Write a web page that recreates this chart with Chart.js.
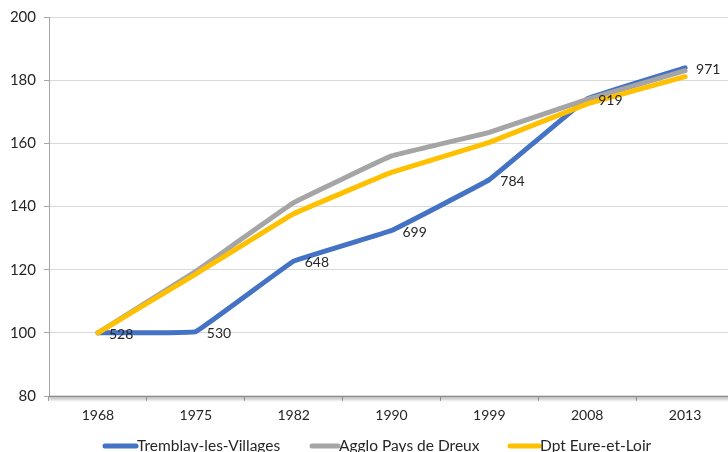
<!DOCTYPE html>
<html>
<head>
<meta charset="utf-8">
<script src="https://cdn.jsdelivr.net/npm/chart.js@4.4.1/dist/chart.umd.min.js"></script>
<style>
  html, body { margin: 0; padding: 0; background: #fff; overflow: hidden; }
  #wrap { position: absolute; left: 0; top: 0; width: 734px; height: 452px; }
</style>
</head>
<body>
<div id="wrap"><canvas id="chart" width="734" height="452"></canvas></div>
<script>
// Population index (base 100 in 1968)
const years = ['1968', '1975', '1982', '1990', '1999', '2008', '2013'];
const tremblayPop = [528, 530, 648, 699, 784, 919, 971];
const tremblayIndex = [100, 100.4, 122.7, 132.4, 148.5, 174.1, 183.9];
const agglomIndex = [100, 119.5, 141.2, 156.0, 163.5, 173.9, 183.0];
const dptIndex = [100, 118.6, 137.7, 150.8, 160.3, 172.5, 181.1];
const yTicks = [80, 100, 120, 140, 160, 180, 200];
const seriesNames = ['Tremblay-les-Villages', 'Agglo Pays de Dreux', 'Dpt Eure-et-Loir'];
const seriesColors = ['#4472C4', '#A5A5A5', '#FFC000'];

const FONT = 'Lato, "Open Sans", sans-serif';

// population counts written beside the Tremblay line
const valueLabels = {
  id: 'valueLabels',
  afterDatasetsDraw(chart) {
    const ctx = chart.ctx;
    const meta = chart.getDatasetMeta(0);
    ctx.save();
    ctx.font = '14px ' + FONT;
    ctx.fillStyle = '#262626';
    ctx.textAlign = 'left';
    ctx.textBaseline = 'middle';
    meta.data.forEach((pt, i) => {
      ctx.fillText(String(tremblayPop[i]), pt.x + 11, pt.y + 1.5);
    });
    ctx.restore();
  }
};

// shaded horizontal axis line
const axisShadow = {
  id: 'axisShadow',
  beforeDatasetsDraw(chart) {
    const { ctx, chartArea } = chart;
    ctx.save();
    ctx.strokeStyle = '#8c8c8c';
    ctx.lineWidth = 1.5;
    ctx.shadowColor = 'rgba(0,0,0,0.45)';
    ctx.shadowBlur = 3;
    ctx.shadowOffsetY = 2;
    ctx.beginPath();
    ctx.moveTo(chartArea.left, chartArea.bottom + 0.5);
    ctx.lineTo(chartArea.right, chartArea.bottom + 0.5);
    ctx.stroke();
    ctx.restore();
  }
};

// legend row under the axis: thick line swatch followed by the name
const lineLegend = {
  id: 'lineLegend',
  afterDraw(chart) {
    const ctx = chart.ctx;
    const y = 446;
    const items = [
      { x0: 105, x1: 136, tx: 137 },
      { x0: 312, x1: 338, tx: 339 },
      { x0: 510, x1: 539, tx: 540 }
    ];
    ctx.save();
    ctx.font = '15.5px ' + FONT;
    ctx.textBaseline = 'middle';
    ctx.textAlign = 'left';
    chart.data.datasets.forEach((ds, i) => {
      const it = items[i];
      ctx.strokeStyle = ds.borderColor;
      ctx.lineWidth = 5;
      ctx.lineCap = 'round';
      ctx.beginPath();
      ctx.moveTo(it.x0, y);
      ctx.lineTo(it.x1, y);
      ctx.stroke();
      ctx.fillStyle = '#262626';
      ctx.fillText(ds.label, it.tx, y);
    });
    ctx.restore();
  }
};

const seriesData = [tremblayIndex, agglomIndex, dptIndex];

new Chart(document.getElementById('chart'), {
  type: 'line',
  data: {
    labels: years,
    datasets: seriesData.map((vals, i) => ({
      label: seriesNames[i],
      data: vals,
      borderColor: seriesColors[i],
      backgroundColor: seriesColors[i],
      borderWidth: 5,
      borderJoinStyle: 'round',
      borderCapStyle: 'round',
      tension: 0.05,
      pointRadius: 0,
      pointHoverRadius: 0,
      fill: false,
      order: 3 - i
    }))
  },
  options: {
    responsive: false,
    animation: false,
    devicePixelRatio: 1,
    layout: { padding: { top: 17, right: 0, bottom: 0, left: 0 } },
    plugins: {
      legend: { display: false },
      tooltip: { enabled: false }
    },
    scales: {
      x: {
        type: 'category',
        offset: true,
        afterFit(scale) { scale.height = 56; },
        grid: {
          offset: true,
          drawOnChartArea: false,
          drawTicks: true,
          tickLength: 5,
          color: '#a6a6a6'
        },
        border: { display: false },
        ticks: {
          color: '#262626',
          font: { family: FONT, size: 14 },
          padding: 6,
          maxRotation: 0
        }
      },
      y: {
        min: 80,
        max: 200,
        afterFit(scale) { scale.width = 49; },
        afterBuildTicks(scale) { scale.ticks = yTicks.map(v => ({ value: v })); },
        grid: {
          color: '#d9d9d9',
          lineWidth: 1,
          drawTicks: true,
          tickLength: 5,
          tickColor: '#a6a6a6'
        },
        border: { display: true, color: '#a6a6a6', width: 1 },
        ticks: {
          color: '#262626',
          font: { family: FONT, size: 15 },
          padding: 8
        }
      }
    }
  },
  plugins: [axisShadow, valueLabels, lineLegend]
});
</script>
</body>
</html>
